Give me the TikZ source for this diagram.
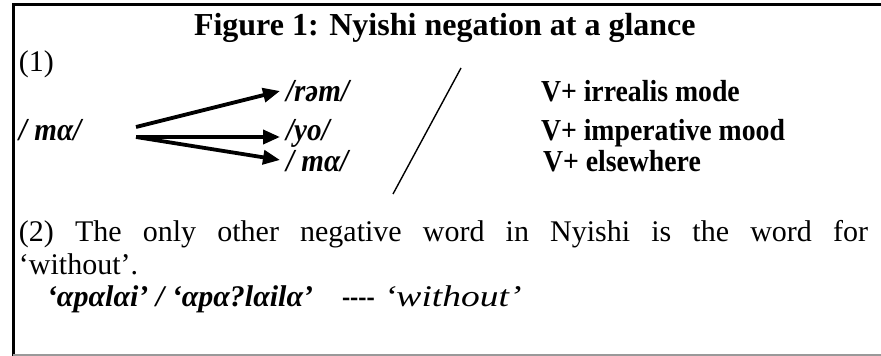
\documentclass[tikz,border=0pt]{standalone}
\usepackage{fontspec}
\usepackage{graphicx}
\setmainfont{Liberation Serif}
\newfontfamily\narrowserif[FakeStretch=0.91]{Liberation Serif}
\usetikzlibrary{arrows.meta,calc}
\begin{document}
\begin{tikzpicture}[x=1pt,y=-1pt,
  txt/.style={anchor=base west,inner sep=0pt,outer sep=0pt,font=\fontsize{30}{34}\selectfont},
  ipa/.style={txt,font=\fontsize{32}{36}\selectfont\narrowserif\bfseries\itshape},
  lab/.style={txt,font=\fontsize{30.5}{35}\selectfont\narrowserif\bfseries},
  arr/.style={line width=3.8pt,-{Triangle[length=17pt,width=14pt]}},
  frame/.style={line width=3pt,line join=miter}]
\useasboundingbox (0,0) rectangle (881,356);
\fill[white] (0,0) rectangle (881,356);
\draw[frame] (13.5,356) -- (13.5,4.5) -- (881,4.5);
\draw[black!40,line width=1.5pt] (13,355) -- (881,355);
\node[txt,font=\fontsize{32}{36}\selectfont\bfseries] (title) at (194,35) {Figure 1: Nyishi negation at a glance};
\node[txt] (one) at (19,71) {(1)};
\node[ipa] (ma) at (19,140) {/ m\char"03B1/};
\node[ipa] (ram) at (286,101) {/r\char"0259m/};
\node[ipa] (yo) at (286,140) {/yo/};
\node[ipa] (ma2) at (286,171) {/ m\char"03B1/};
\coordinate (s1) at (136,127);
\coordinate (s2) at (136,137);
\coordinate (t1) at (280,91);
\coordinate (t2) at (280,137);
\coordinate (t3) at (280,160);
\draw[arr] (s1) -- (t1);
\draw[arr] (s2) -- (t2);
\draw[arr] (s2) -- (t3);
\coordinate (sl1) at (461,68);
\coordinate (sl2) at (393,194);
\draw[line width=1.4pt] (sl1) -- (sl2);
\node[lab] (irr) at (541,101) {V+ irrealis mode};
\node[lab] (imp) at (541,140) {V+ imperative mood};
\node[lab] (els) at (543,171) {V+ elsewhere};
\node[txt] (p1) at (19,241) {\makebox[849pt][s]{(2) The only other negative word in Nyishi is the word for}};
\node[txt] (p2) at (19,274) {`without'.};
\node[txt,font=\fontsize{30}{34}\selectfont\bfseries\itshape] (p3) at (47,306) {`\char"03B1p\char"03B1l\char"03B1i' / `\char"03B1p\char"03B1?l\char"03B1il\char"03B1'};
\node[txt,font=\fontsize{30}{34}\selectfont\bfseries] (dash) at (342,306) {\scalebox{0.82}[1]{{-}{-}{-}{-}}};
\node[txt,font=\fontsize{30}{34}\selectfont\itshape] (wo) at (384,306) {\scalebox{1.25}[1]{`without'}};
\end{tikzpicture}
\end{document}
